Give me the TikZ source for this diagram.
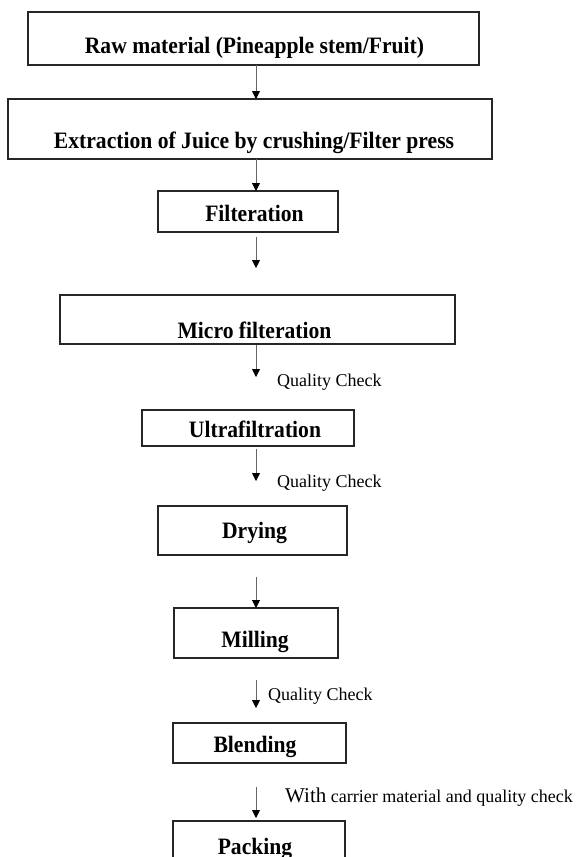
\documentclass[tikz,border=0pt]{standalone}
\usepackage{fontspec}
\setmainfont{Liberation Serif}
\newfontfamily\boxfont[FakeStretch=0.92]{Liberation Serif Bold}
\usetikzlibrary{arrows.meta}
\begin{document}
\begin{tikzpicture}[x=1pt,y=-1pt,
  box/.style={draw=black!85,line width=1.3pt,inner sep=0pt,outer sep=0pt,rectangle},
  boxtext/.style={inner sep=0pt,anchor=base,font=\boxfont\fontsize{23.5}{26}\selectfont},
  note/.style={inner sep=0pt,anchor=base west,font=\fontsize{18}{20}\selectfont},
  flow/.style={draw=black!60,line width=0.8pt,-{Triangle[width=8pt,length=8pt,color=black]}}]
\useasboundingbox (0,0) rectangle (577,857);
\clip (0,0) rectangle (577,857);
\coordinate (ax) at (256,0);
% boxes
\node[box,minimum width=451pt,minimum height=53pt] (b1) at (253.5,38.5) {};
\node[box,minimum width=484pt,minimum height=60pt] (b2) at (250,129) {};
\node[box,minimum width=180pt,minimum height=41pt] (b3) at (248,211.5) {};
\node[box,minimum width=395pt,minimum height=49pt] (b4) at (257.5,319.5) {};
\node[box,minimum width=212pt,minimum height=36pt] (b5) at (248,428) {};
\node[box,minimum width=189pt,minimum height=49pt] (b6) at (252.5,530.5) {};
\node[box,minimum width=164pt,minimum height=50pt] (b7) at (256,633) {};
\node[box,minimum width=173pt,minimum height=40pt] (b8) at (259.5,743) {};
\node[box,minimum width=172pt,minimum height=60pt] (b9) at (259,851) {};
% box texts
\node[boxtext] (t1) at (254.5,53) {Raw material (Pineapple stem/Fruit)};
\node[boxtext] (t2) at (254,148) {Extraction of Juice by crushing/Filter press};
\node[boxtext] (t3) at (254.5,221) {Filteration};
\node[boxtext] (t4) at (254.5,338) {Micro filteration};
\node[boxtext] (t5) at (255,437) {Ultrafiltration};
\node[boxtext] (t6) at (254.5,538) {Drying};
\node[boxtext] (t7) at (255,647) {Milling};
\node[boxtext] (t8) at (255,752) {Blending};
\node[boxtext] (t9) at (255,854) {Packing};
% labels
\node[note] (q1) at (277,386) {Quality Check};
\node[note] (q2) at (277,487) {Quality Check};
\node[note] (q3) at (268,700) {Quality Check};
\node[note] (q4) at (285,802) {{\fontsize{21}{22}\selectfont With} carrier material and quality check};
% connectors
\draw[flow] (b1.south -| ax) -- (b2.north -| ax);
\draw[flow] (b2.south -| ax) -- (b3.north -| ax);
\draw[flow,shorten <=5pt,shorten >=27pt] (b3.south -| ax) -- (b4.north -| ax);
\draw[flow,shorten <=1pt,shorten >=33pt] (b4.south -| ax) -- (b5.north -| ax);
\draw[flow,shorten <=3pt,shorten >=25pt] (b5.south -| ax) -- (b6.north -| ax);
\draw[flow,shorten <=22pt] (b6.south -| ax) -- (b7.north -| ax);
\draw[flow,shorten <=22pt,shorten >=15pt] (b7.south -| ax) -- (b8.north -| ax);
\draw[flow,shorten <=24pt,shorten >=3pt] (b8.south -| ax) -- (b9.north -| ax);
\end{tikzpicture}
\end{document}
